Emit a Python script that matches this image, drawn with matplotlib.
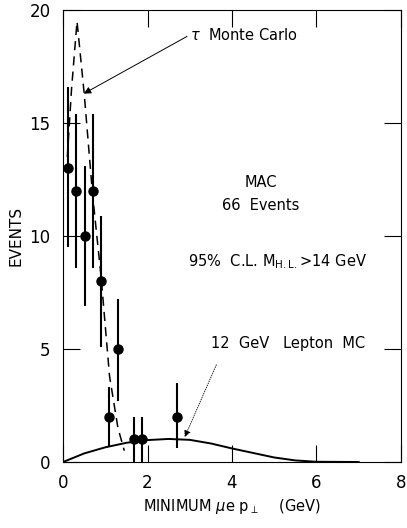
import matplotlib.pyplot as plt

# measured points
pt_x = [0.12, 0.31, 0.52, 0.72, 0.89, 1.08, 1.30, 1.67, 1.88, 2.70]
pt_y = [13, 12, 10, 12, 8, 2, 5, 1, 1, 2]
err_lo = [3.5, 3.4, 3.1, 3.4, 2.9, 1.35, 2.3, 1.0, 1.0, 1.4]
err_hi = [3.6, 3.4, 3.1, 3.4, 2.9, 1.3, 2.2, 1.0, 1.0, 1.5]

# tau Monte Carlo (dashed)
tau_x = [0.10, 0.20, 0.33, 0.50, 0.70, 0.90, 1.10, 1.30, 1.45]
tau_y = [13.5, 16.5, 19.5, 16.3, 11.8, 8.2, 3.8, 1.5, 0.5]

# 12 GeV lepton Monte Carlo (solid)
lep_x = [0.0, 0.5, 1.0, 1.5, 2.0, 2.5, 3.0, 3.5, 4.0, 4.5, 5.0, 5.5, 6.0, 7.0]
lep_y = [0.0, 0.38, 0.65, 0.85, 0.97, 1.02, 0.98, 0.82, 0.6, 0.4, 0.2, 0.07, 0.01, 0.0]

plt.rcParams['font.family'] = ['DejaVu Sans']

fig = plt.figure(figsize=(4.07, 5.28), dpi=100, facecolor='white')
ax = fig.add_axes([0.155, 0.125, 0.83, 0.856])

ax.plot(tau_x, tau_y, color='black', lw=1.1, ls=(0, (6, 4)))
ax.plot(lep_x, lep_y, color='black', lw=1.4)
ax.errorbar(pt_x, pt_y, yerr=[err_lo, err_hi], fmt='o', color='black',
            ms=6.5, elinewidth=1.5, capsize=0)

ax.set_xlim(0, 8)
ax.set_ylim(0, 20)
ax.set_xticks([0, 2, 4, 6, 8])
ax.set_yticks([0, 5, 10, 15, 20])
ax.tick_params(direction='in', length=12, width=0.8, top=True, right=True,
               labelsize=12, pad=9, colors='black')
for s in ax.spines.values():
    s.set_linewidth(0.8)

ax.set_ylabel('EVENTS', fontsize=11, labelpad=4)
ax.set_xlabel(r'MINIMUM $\mu$e p$_\perp$    (GeV)', fontsize=10.5, labelpad=3)

ax.annotate(r'$\tau$  Monte Carlo', xy=(0.49, 16.3), xytext=(3.0, 18.9),
            fontsize=10.5, ha='left', va='center',
            arrowprops=dict(arrowstyle='-|>', color='black', lw=0.7,
                            shrinkA=0, shrinkB=0,
                            relpos=(0, 0.5)))
ax.annotate('', xy=(2.88, 1.1), xytext=(3.63, 4.3),
            arrowprops=dict(arrowstyle='-|>', color='black', lw=0.6,
                            ls=':', shrinkA=0, shrinkB=0))
ax.text(4.68, 12.35, 'MAC', fontsize=10.5, ha='center', va='center')
ax.text(4.68, 11.35, '66  Events', fontsize=10.5, ha='center', va='center')
ax.text(2.95, 8.85, r'95%  C.L. M$_{\rm H.L.}$>14 GeV', fontsize=10.5,
        ha='left', va='center')
ax.text(3.5, 5.25, '12  GeV   Lepton  MC', fontsize=10.5, ha='left', va='center')

fig.savefig('out.png', dpi=100)
